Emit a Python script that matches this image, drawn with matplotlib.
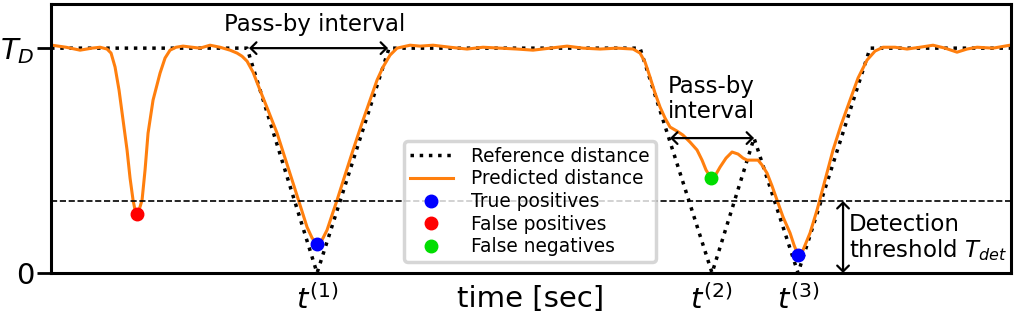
import numpy as np
import matplotlib.pyplot as plt

# reference distance (piecewise linear), time in arbitrary units, distance in units of T_D
ref_t = [0, 196, 266, 338, 589, 661, 703, 747, 819, 960]
ref_d = [1, 1, 0, 1, 1, 0, 0.6, 0, 1, 1]

# predicted distance
pred_t = [1, 15, 29, 41, 49, 56, 60, 64, 68, 72, 76, 79, 82, 84, 86, 88, 91, 94,
          97, 102, 109, 114, 119, 125, 132, 141, 149, 159, 169, 179, 186, 191,
          196, 202, 209, 217, 226, 234, 242, 249, 256, 261, 266, 271, 276, 281,
          286, 294, 302, 311, 319, 326, 332, 339, 346, 359, 369, 382, 399, 416,
          432, 449, 466, 482, 499, 516, 532, 549, 566, 582, 589, 594, 599, 604,
          609, 614, 619, 626, 632, 639, 646, 651, 655, 660, 665, 669, 675, 681,
          687, 692, 696, 702, 707, 711, 716, 721, 726, 732, 739, 743, 747, 752,
          759, 766, 774, 782, 790, 799, 807, 816, 824, 832, 844, 856, 869, 882,
          894, 906, 916, 926, 942, 959]
pred_d = [1.013, 1.004, 0.991, 1.0, 1.004, 0.996, 0.978, 0.916, 0.813, 0.68,
          0.547, 0.422, 0.324, 0.28, 0.262, 0.28, 0.324, 0.458, 0.622, 0.769,
          0.889, 0.956, 0.991, 1.004, 1.009, 1.004, 1.0, 1.013, 1.004, 0.991,
          0.978, 0.964, 0.942, 0.893, 0.813, 0.724, 0.622, 0.511, 0.4, 0.302,
          0.204, 0.156, 0.129, 0.147, 0.191, 0.258, 0.324, 0.436, 0.547, 0.667,
          0.769, 0.858, 0.916, 0.969, 1.0, 1.013, 1.009, 1.013, 1.004, 0.996,
          1.004, 1.0, 0.996, 0.991, 1.0, 1.009, 1.0, 0.996, 1.0, 0.996, 0.978,
          0.938, 0.871, 0.8, 0.738, 0.689, 0.649, 0.631, 0.613, 0.582, 0.547,
          0.502, 0.458, 0.422, 0.44, 0.471, 0.511, 0.538, 0.529, 0.511, 0.502,
          0.502, 0.502, 0.48, 0.444, 0.387, 0.324, 0.249, 0.178, 0.124, 0.08,
          0.102, 0.178, 0.28, 0.413, 0.547, 0.658, 0.769, 0.867, 0.947, 0.987,
          1.004, 1.004, 0.996, 1.004, 1.013, 1.0, 0.982, 0.996, 1.004, 1.0, 1.013]

tp_t = [266, 747]
tp_d = [0.129, 0.08]
fp_t = [86]
fp_d = [0.262]
fn_t = [660]
fn_d = [0.422]

threshold = 0.32
tick_pos = [266, 660, 747]
tick_labels = ['$t^{(1)}$', '$t^{(2)}$', '$t^{(3)}$']

fig = plt.figure(figsize=(10.15, 3.18), dpi=100)
ax = fig.add_axes([0.0503, 0.1415, 0.9458, 0.845])

ax.plot(ref_t, ref_d, ':', color='black', lw=2.5, label='Reference distance')
ax.plot(pred_t, pred_d, '-', color='#ff7f0e', lw=2.2, label='Predicted distance')
ax.plot(tp_t, tp_d, 'o', color='blue', ms=9, label='True positives', zorder=5)
ax.plot(fp_t, fp_d, 'o', color='red', ms=9, label='False positives', zorder=5)
ax.plot(fn_t, fn_d, 'o', color='#00dd00', ms=9, label='False negatives', zorder=5)
ax.axhline(threshold, color='black', ls='--', lw=1.2)

# pass-by arrows and annotations
arrow = dict(arrowstyle='<->,head_length=0.3,head_width=0.3', mutation_scale=14,
             color='black', lw=1.6, shrinkA=0, shrinkB=0)
ax.annotate('', xy=(198, 1), xytext=(337, 1), arrowprops=arrow)
ax.text(264, 1.105, 'Pass-by interval', ha='center', va='center', fontsize=16.5)
ax.annotate('', xy=(619, 0.6), xytext=(703, 0.6), arrowprops=arrow)
ax.text(660, 0.775, 'Pass-by\ninterval', ha='center', va='center', fontsize=16.5,
        linespacing=1.13)
ax.annotate('', xy=(792, 0), xytext=(792, threshold), arrowprops=arrow)
ax.text(798, 0.155, 'Detection\nthreshold $T_{det}$', ha='left', va='center',
        fontsize=16.5, linespacing=1.05)

ax.set_xlim(0, 960)
ax.set_ylim(0, 1.195)
ax.set_yticks([0, 1])
ax.set_yticklabels(['0', '$T_D$'], fontsize=21)
ax.set_xticks(tick_pos)
ax.set_xticklabels(tick_labels, fontsize=21)
ax.tick_params(axis='x', length=0, pad=8)
ax.tick_params(axis='y', length=10, width=2, pad=2)
ax.set_xlabel('time [sec]', fontsize=21)
ax.xaxis.set_label_coords(0.5, -0.045)
for s in ax.spines.values():
    s.set_linewidth(2.2)

leg = ax.legend(loc='center', bbox_to_anchor=(0.499, 0.266), fontsize=13.4,
                handlelength=2.3, labelspacing=0.2, borderpad=0.3,
                handletextpad=1.0, fancybox=True)
leg.get_frame().set_linewidth(2.5)
leg.get_frame().set_edgecolor('#cccccc')

fig.savefig('out.png', dpi=100)
